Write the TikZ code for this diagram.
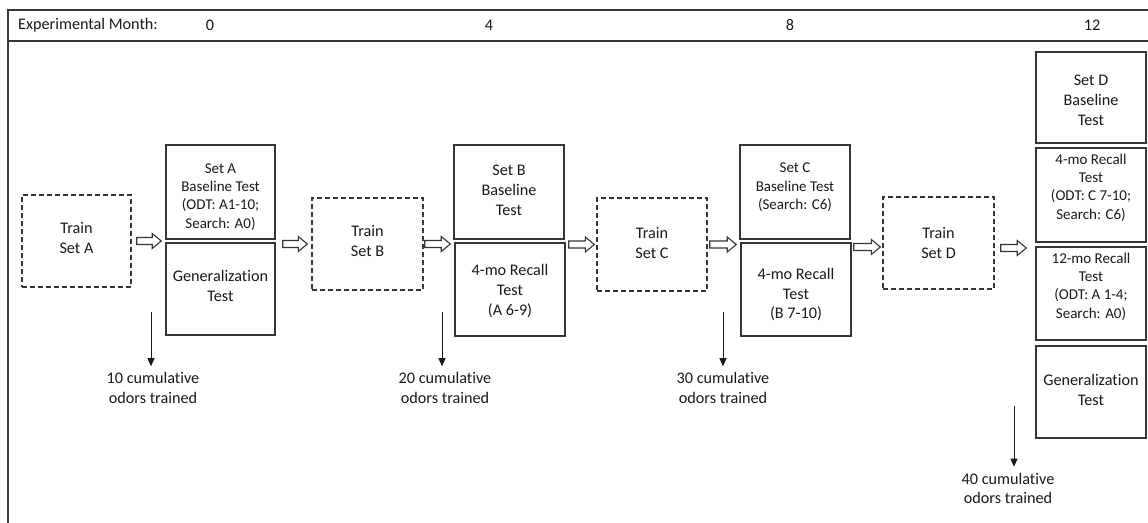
\documentclass[tikz,border=0pt]{standalone}
\usepackage{fontspec}
\setmainfont{Carlito}[Ligatures=NoCommon]
\usetikzlibrary{arrows.meta,calc}
\definecolor{ln}{HTML}{363636}
\definecolor{tx}{HTML}{1A1A1A}
\newcommand\bt[2]{\raisebox{\dimexpr-4pt-#1pt\relax}[0pt][0pt]{\begin{tabular}{@{}c@{}}#2\end{tabular}}}
\begin{document}
\begin{tikzpicture}[x=1pt,y=-1pt,
 box/.style={draw=ln, line width=1.5pt, inner sep=0pt, text=tx, font=\fontsize{16.2}{19.8}\selectfont},
 dbox/.style={box, dash pattern=on 5pt off 3pt, line width=1.4pt},
 small/.style={font=\fontsize{15}{18.3}\selectfont},
 lbl/.style={text=tx, inner sep=0pt, font=\fontsize{16.2}{19.8}\selectfont, align=center},
 blk/.style n args={3}{draw=ln, line width=1.1pt, fill=white,
   to path={let \p1=(\tikztostart), \p2=(\tikztotarget) in
     (\x1+#1,\y1+#3+3.5pt) -- (\x2-#2-9pt,\y1+#3+3.5pt) -- (\x2-#2-9pt,\y1+#3+7.5pt) --
     (\x2-#2,\y1+#3) -- (\x2-#2-9pt,\y1+#3-7.5pt) -- (\x2-#2-9pt,\y1+#3-3.5pt) --
     (\x1+#1,\y1+#3-3.5pt) -- cycle}},
 dn/.style={draw=tx, line width=0.9pt, -{Triangle[length=8pt,width=7pt]}, shorten >=6pt},
]
\useasboundingbox (0,0) rectangle (1148,522);
\clip (0,0) rectangle (1148,522);
\fill[white] (0,0) rectangle (1148,522);
% frame
\draw[ln, line width=1.5pt] (8,540) -- (8,10) -- (1170,10);
\draw[ln, line width=1.5pt] (8,41) -- (1170,41);
% header
\node[lbl, anchor=west] (hdr) at (18,25) {Experimental Month:};
\node[lbl] (m0) at (210,25) {0};
\node[lbl] (m4) at (489,25) {4};
\node[lbl] (m8) at (790,25) {8};
\node[lbl] (m12) at (1092,25) {12};
% month 0
\node[dbox, minimum width=109pt, minimum height=92pt] (trainA) at (76.5,241) {\bt{-1.5}{Train\\Set A}};
\node[box, small, minimum width=109pt, minimum height=94pt] (setA) at (220.5,192) {\bt{4.5}{Set A\\Baseline Test\\(ODT: A1-10;\\Search: A0)}};
\node[box, minimum width=109pt, minimum height=92pt] (genA) at (220.5,289) {\bt{-1.5}{Generalization\\Test}};
% month 4
\node[dbox, minimum width=111pt, minimum height=92pt] (trainB) at (367.5,244) {\bt{-1}{Train\\Set B}};
\node[box, minimum width=110pt, minimum height=94pt] (setB) at (509,192) {\bt{0}{Set B\\Baseline\\Test}};
\node[box, minimum width=110pt, minimum height=93pt] (recB) at (510,289.5) {\bt{2.5}{4-mo Recall\\Test\\(A 6-9)}};
% month 8
\node[dbox, minimum width=110pt, minimum height=93pt] (trainC) at (652,244.5) {\bt{0}{Train\\Set C}};
\node[box, small, minimum width=110pt, minimum height=94pt] (setC) at (795,192) {\bt{-5}{Set C\\Baseline Test\\(Search: C6)}};
\node[box, minimum width=110pt, minimum height=93pt] (recC) at (796,289.5) {\bt{6}{4-mo Recall\\Test\\(B 7-10)}};
% month 12
\node[dbox, minimum width=111pt, minimum height=92pt] (trainD) at (938.5,243) {\bt{1.5}{Train\\Set D}};
\node[box, minimum width=110pt, minimum height=91pt] (setD) at (1091,97.5) {\bt{4.5}{Set D\\Baseline\\Test}};
\node[box, small, minimum width=110pt, minimum height=94pt] (recFour) at (1091,195) {\bt{-7.5}{4-mo Recall\\Test\\(ODT: C 7-10;\\Search: C6)}};
\node[box, small, minimum width=110pt, minimum height=93pt] (recTwelve) at (1091,293.5) {\bt{-7}{12-mo Recall\\Test\\(ODT: A 1-4;\\Search: A0)}};
\node[box, minimum width=110pt, minimum height=92pt] (genD) at (1091,392) {\bt{-0.5}{Generalization\\Test}};
% block arrows
\draw[blk={5pt}{4pt}{0pt}] (trainA.east) to (trainA.east -| setA.west);
\draw[blk={7pt}{4pt}{0pt}] (trainB.west -| setA.east) to (trainB.west);
\draw[blk={1pt}{3pt}{0pt}] (trainB.east) to (trainB.east -| setB.west);
\draw[blk={3pt}{2pt}{0pt}] (trainC.west -| recB.east) to (trainC.west);
\draw[blk={2pt}{3pt}{0pt}] (trainC.east) to (trainC.east -| setC.west);
\draw[blk={2pt}{2pt}{-4pt}] (trainD.west -| recC.east) to (trainD.west);
\draw[blk={6pt}{9pt}{-5pt}] (trainD.east) to (trainD.east -| recFour.west);
% cumulative labels
\coordinate (d1) at (151,312);
\node[lbl] (c1) at (153,388) {10 cumulative\\odors trained};
\draw[dn] (d1) -- (d1 |- c1.north);
\coordinate (d2) at (442,312);
\node[lbl] (c2) at (445,388) {20 cumulative\\odors trained};
\draw[dn] (d2) -- (d2 |- c2.north);
\coordinate (d3) at (723,312);
\node[lbl] (c3) at (723,388) {30 cumulative\\odors trained};
\draw[dn] (d3) -- (d3 |- c3.north);
\coordinate (d4) at (1014,406);
\node[lbl] (c4) at (1008,488.5) {40 cumulative\\odors trained};
\draw[dn] (d4) -- (d4 |- c4.north);
\end{tikzpicture}
\end{document}
